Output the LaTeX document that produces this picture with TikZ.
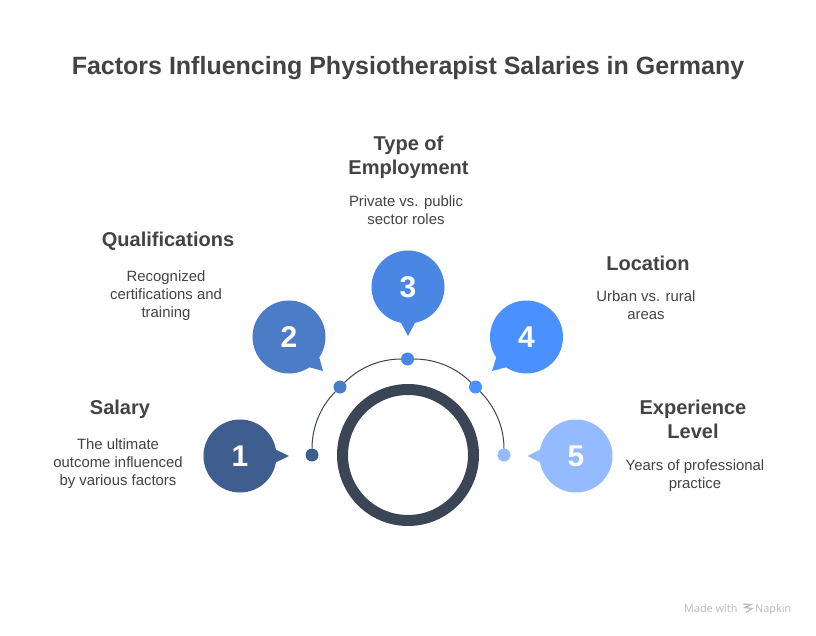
\documentclass[tikz,border=0pt]{standalone}
\usepackage{fontspec}
\setmainfont{Liberation Sans}
\newfontfamily\wmfont{Noto Sans}
\definecolor{ink}{HTML}{434343}
\definecolor{ringc}{HTML}{3A4556}
\definecolor{cA}{HTML}{3F5D8F}
\definecolor{cB}{HTML}{4D7CC7}
\definecolor{cC}{HTML}{4A86E4}
\definecolor{cD}{HTML}{4A90FF}
\definecolor{cE}{HTML}{94BBFF}
\definecolor{wm}{HTML}{BDBDBD}
\tikzset{
  x=1pt,y=-1pt,
  bubble/.style={circle,minimum size=73pt,inner sep=0pt,outer sep=0pt,text=white,font=\fontsize{30}{30}\selectfont\bfseries},
  dotn/.style={circle,minimum size=13pt,inner sep=0pt,outer sep=0pt},
  head/.style={align=center,text=ink,font=\fontsize{20}{24}\selectfont\bfseries},
  desc/.style={align=center,text=ink,font=\fontsize{14.9}{18}\selectfont},
  arcline/.style={draw=ringc,line width=1pt,looseness=0.885},
  wmtext/.style={text=wm,anchor=base west,inner sep=0pt,font=\wmfont\fontsize{10.8}{12}\selectfont},
}
\begin{document}
\begin{tikzpicture}
\useasboundingbox (0,0) rectangle (816,636);
\fill[white] (0,0) rectangle (816,636);
\node[text=ink,font=\fontsize{25}{30}\selectfont\bfseries] (title) at (408,68) {Factors Influencing Physiotherapist Salaries in Germany};
% ring
\node[circle,draw=ringc,line width=11pt,minimum size=131pt,inner sep=0pt] (ring) at (408,455) {};
% dots
\node[dotn,fill=cA] (d1) at (312,455) {};
\node[dotn,fill=cB] (d2) at (340,387) {};
\node[dotn,fill=cC] (d3) at (407.5,359) {};
\node[dotn,fill=cD] (d4) at (475.5,387) {};
\node[dotn,fill=cE] (d5) at (504,455) {};
% arcs
\draw[arcline] (d1) to[out=90,in=225] (d2);
\draw[arcline] (d2) to[out=45,in=180] (d3);
\draw[arcline] (d3) to[out=0,in=135] (d4);
\draw[arcline] (d4) to[out=-45,in=90] (d5);
% bubbles
\node[bubble,fill=cA] (b1) at (240,456) {1};
\node[bubble,fill=cB] (b2) at (289,337) {2};
\node[bubble,fill=cC] (b3) at (408,287) {3};
\node[bubble,fill=cD] (b4) at (526.5,337) {4};
\node[bubble,fill=cE] (b5) at (576,456) {5};
\coordinate (t1) at (289,456);
\coordinate (t2) at (323,371);
\coordinate (t3) at (408,336);
\coordinate (t4) at (492,371);
\coordinate (t5) at (527.5,456);
\fill[cA] (b1.10) -- (t1) -- (b1.-10) -- cycle;
\fill[cB] (b2.-34) -- (t2) -- (b2.-56) -- cycle;
\fill[cC] (b3.-79) -- (t3) -- (b3.-101) -- cycle;
\fill[cD] (b4.-124) -- (t4) -- (b4.-146) -- cycle;
\fill[cE] (b5.170) -- (t5) -- (b5.190) -- cycle;
% texts
\node[head] (h1) at (120,409) {Salary};
\node[desc] (p1) at (118,464) {The ultimate\\outcome influenced\\by various factors};
\node[head] (h2) at (168,241) {Qualifications};
\node[desc] (p2) at (166,296) {Recognized\\certifications and\\training};
\node[head] (h3) at (408.5,157) {Type of\\Employment};
\node[desc] (p3) at (406,210) {Private vs. public\\sector roles};
\node[head] (h4) at (648,263) {Location};
\node[desc] (p4) at (646,305) {Urban vs. rural\\areas};
\node[head] (h5) at (693,419) {Experience\\Level};
\node[desc] (p5) at (695,476) {Years of professional\\practice};
% watermark
\node[wmtext] (wm1) at (684,612) {Made with};
\node[wmtext] (wm2) at (755,612) {Napkin};
\draw[wm,line width=1.3pt] (743,604) -- (751,604.5) -- (745,607.5) -- (752,608.5) -- (746,612.5);
\end{tikzpicture}
\end{document}
